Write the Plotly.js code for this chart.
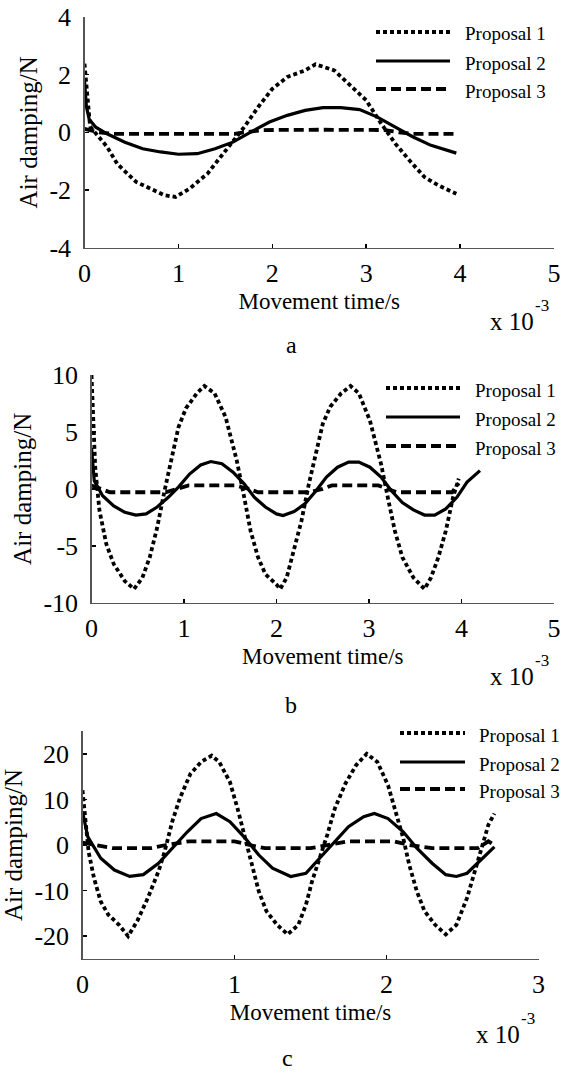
<!DOCTYPE html>
<html>
<head>
<meta charset="utf-8">
<script src="https://cdn.plot.ly/plotly-3.0.1.min.js"></script>
<style>html,body{margin:0;padding:0;background:#fff;}#chart{width:563px;height:1073px;}</style>
</head>
<body>
<div id="chart"></div>
<script>
// ---------- DATA (time in units of 1e-3 s, damping in N) ----------
const seriesNames = ["Proposal 1", "Proposal 2", "Proposal 3"];
const panelLabels = ["a", "b", "c"];
const xTitle = "Movement time/s";
const yTitle = "Air damping/N";
const multBase = "x 10";
const multExp = "-3";
const xTickValsA = [0, 1, 2, 3, 4, 5];
const yTickValsA = [-4, -2, 0, 2, 4];
const yTickTextA = ["-4", "-2", "0", "2", "4"];
const xTickValsB = [0, 1, 2, 3, 4, 5];
const yTickValsB = [-10, -5, 0, 5, 10];
const yTickTextB = ["-10", "-5", "0", "5", "10"];
const xTickValsC = [0, 1, 2, 3];
const yTickValsC = [-20, -10, 0, 10, 20];
const yTickTextC = ["-20", "-10", "0", "10", "20"];
const yMinorTicksC = [-25, 25];

// Panel a
const aP1_t = [0, 0.03, 0.06, 0.24, 0.35, 0.55, 0.7, 0.85, 0.97, 1.12, 1.31, 1.5, 1.7, 1.85, 2.0, 2.16, 2.35, 2.46, 2.66, 2.81, 3.0, 3.16, 3.31, 3.46, 3.62, 3.77, 3.92, 3.96];
const aP1_y = [2.38, 1.1, 0.2, -0.5, -1.1, -1.72, -1.95, -2.18, -2.24, -1.95, -1.43, -0.62, 0.18, 0.88, 1.51, 1.92, 2.15, 2.36, 2.15, 1.69, 1.11, 0.3, -0.39, -0.97, -1.55, -1.84, -2.07, -2.13];
const aP2_t = [0, 0.02, 0.05, 0.12, 0.24, 0.43, 0.62, 0.81, 1.0, 1.2, 1.39, 1.58, 1.77, 1.97, 2.16, 2.35, 2.54, 2.73, 2.93, 3.12, 3.31, 3.5, 3.69, 3.88, 3.96];
const aP2_y = [1.8, 0.9, 0.45, 0.18, -0.05, -0.34, -0.57, -0.68, -0.76, -0.74, -0.57, -0.34, 0.01, 0.36, 0.59, 0.76, 0.86, 0.86, 0.79, 0.53, 0.18, -0.16, -0.45, -0.62, -0.72];
const aP3_t = [0, 0.15, 0.3, 0.8, 1.6, 1.75, 1.9, 2.5, 3.2, 3.35, 3.5, 3.96];
const aP3_y = [0.12, 0.0, -0.05, -0.06, -0.05, 0.02, 0.08, 0.09, 0.08, 0.0, -0.05, -0.05];

// Panel b
const bP1_t = [0, 0.016, 0.04, 0.086, 0.16, 0.24, 0.36, 0.46, 0.55, 0.63, 0.71, 0.79, 0.87, 0.94, 1.02, 1.14, 1.22, 1.33, 1.45, 1.57, 1.65, 1.72, 1.8, 1.88, 2.0, 2.04, 2.11, 2.19, 2.27, 2.35, 2.43, 2.5, 2.58, 2.7, 2.8, 2.89, 3.01, 3.13, 3.21, 3.28, 3.36, 3.48, 3.6, 3.67, 3.75, 3.83, 3.91, 3.97];
const bP1_y = [10, 6.3, 1.9, -1.9, -4.85, -6.6, -8.1, -8.8, -7.8, -6.0, -3.4, -0.15, 2.8, 5.4, 7.06, 8.4, 9.03, 8.4, 6.3, 2.5, -0.7, -3.7, -6.0, -7.5, -8.4, -8.8, -7.8, -5.4, -2.8, 0.44, 3.4, 5.7, 7.2, 8.4, 9.03, 8.4, 6.0, 2.2, -1.03, -3.7, -6.0, -7.8, -8.8, -7.8, -6.0, -3.7, -0.7, 0.9];
const bP2_t = [0, 0.03, 0.12, 0.24, 0.36, 0.48, 0.59, 0.71, 0.83, 0.94, 1.06, 1.18, 1.29, 1.41, 1.53, 1.65, 1.76, 1.88, 2.0, 2.07, 2.19, 2.31, 2.43, 2.54, 2.66, 2.78, 2.89, 3.01, 3.13, 3.24, 3.36, 3.48, 3.6, 3.71, 3.83, 3.95, 4.06, 4.2];
const bP2_y = [3.6, 0.7, -0.6, -1.5, -2.06, -2.3, -2.2, -1.6, -0.74, 0.15, 1.3, 2.1, 2.4, 2.2, 1.47, 0.44, -0.74, -1.6, -2.2, -2.35, -2.0, -1.3, -0.15, 1.03, 1.9, 2.35, 2.35, 1.9, 1.03, -0.15, -1.2, -1.85, -2.3, -2.3, -1.76, -0.74, 0.6, 1.6];
const bP3_t = [0, 0.1, 0.2, 0.8, 0.95, 1.05, 1.55, 1.7, 1.8, 2.35, 2.5, 2.6, 3.1, 3.2, 3.3, 3.9, 3.97];
const bP3_y = [0.3, 0.0, -0.3, -0.3, 0.1, 0.3, 0.3, 0.0, -0.3, -0.3, 0.0, 0.3, 0.3, 0.0, -0.3, -0.3, 0.5];

// Panel c
const cP1_t = [0, 0.02, 0.04, 0.076, 0.12, 0.17, 0.24, 0.3, 0.36, 0.43, 0.5, 0.54, 0.59, 0.64, 0.71, 0.78, 0.85, 0.9, 0.97, 1.02, 1.07, 1.11, 1.16, 1.21, 1.28, 1.35, 1.42, 1.47, 1.51, 1.56, 1.61, 1.66, 1.73, 1.8, 1.87, 1.94, 2.01, 2.06, 2.11, 2.15, 2.2, 2.25, 2.32, 2.39, 2.46, 2.53, 2.58, 2.63, 2.67, 2.71];
const cP1_y = [12, 5.1, -1.5, -7.3, -12.4, -15.3, -17.5, -20, -16.7, -11.6, -5.8, -1.5, 5.1, 10.2, 15.6, 18.2, 19.6, 18.2, 13.8, 8.0, 1.5, -4.4, -10.2, -14.5, -17.5, -19.6, -17.5, -13.1, -8.0, -2.9, 2.2, 8.0, 13.5, 17.5, 20, 18.2, 13.1, 7.3, 1.5, -4.4, -10.2, -14.5, -17.5, -19.6, -17.5, -11.6, -5.8, 0, 4.4, 6.9];
const cP2_t = [0, 0.035, 0.12, 0.21, 0.31, 0.4, 0.5, 0.59, 0.69, 0.78, 0.88, 0.97, 1.07, 1.16, 1.25, 1.37, 1.47, 1.56, 1.66, 1.75, 1.85, 1.92, 2.01, 2.11, 2.2, 2.3, 2.39, 2.46, 2.53, 2.63, 2.71];
const cP2_y = [7.3, 1.8, -2.9, -5.5, -6.9, -6.5, -4.0, -0.7, 2.9, 5.8, 6.9, 5.1, 1.5, -2.2, -5.1, -6.9, -6.2, -2.9, 0.7, 4.0, 6.2, 6.9, 5.8, 2.9, -0.7, -4.0, -6.5, -6.9, -6.2, -2.9, -0.4];
const cP3_t = [0, 0.1, 0.2, 0.45, 0.55, 0.7, 1.0, 1.1, 1.2, 1.5, 1.62, 1.75, 2.05, 2.15, 2.3, 2.6, 2.67, 2.71];
const cP3_y = [0.5, 0, -0.7, -0.7, 0, 0.8, 0.8, 0, -0.7, -0.7, 0, 0.8, 0.8, 0, -0.7, -0.7, 0.8, 0];

// ---------- STYLE ----------
const W = 563, H = 1073;
const FONT = '"Liberation Serif", "Times New Roman", Times, serif';
const px = x => x / W;
const py = y => 1 - y / H;
const lineStyles = [
  {color: "#000", width: 3.8, dash: "4px,3px"},
  {color: "#000", width: 3.2, dash: "solid"},
  {color: "#000", width: 3.8, dash: "10px,5px"}
];

const panels = [
  {ax: "", t: [aP1_t, aP2_t, aP3_t], y: [aP1_y, aP2_y, aP3_y],
   xr: [0, 5], yr: [-4, 4], xt: xTickValsA, yt: yTickValsA, ytt: yTickTextA, minor: null,
   left: 84.5, right: 554, top: 17, bottom: 247.7,
   leg: {x0: 376, x1: 450, tx: 463, ys: [32, 61, 89], fs: 19},
   mult: {x: 488, y: 322}, lab: {x: 291, y: 345}},
  {ax: "2", t: [bP1_t, bP2_t, bP3_t], y: [bP1_y, bP2_y, bP3_y],
   xr: [0, 5], yr: [-10, 10], xt: xTickValsB, yt: yTickValsB, ytt: yTickTextB, minor: null,
   left: 91.5, right: 554, top: 375, bottom: 602.7,
   leg: {x0: 386, x1: 460, tx: 473, ys: [388, 417, 446], fs: 19},
   mult: {x: 488, y: 676}, lab: {x: 291, y: 705}},
  {ax: "3", t: [cP1_t, cP2_t, cP3_t], y: [cP1_y, cP2_y, cP3_y],
   xr: [0, 3], yr: [-25, 25], xt: xTickValsC, yt: yTickValsC, ytt: yTickTextC, minor: yMinorTicksC,
   left: 82.5, right: 538.5, top: 731, bottom: 959,
   leg: {x0: 400, x1: 465, tx: 477, ys: [733, 762, 789], fs: 19},
   mult: {x: 474, y: 1034}, lab: {x: 287, y: 1058}}
];

const traces = [];
const layout = {
  width: W, height: H,
  margin: {l: 0, r: 0, t: 0, b: 0},
  paper_bgcolor: "#fff", plot_bgcolor: "#fff",
  showlegend: false,
  font: {family: FONT, color: "#000"},
  shapes: [], annotations: []
};

panels.forEach((p, pi) => {
  for (let s = 0; s < 3; s++) {
    traces.push({
      type: "scatter", mode: "lines", name: seriesNames[s],
      x: p.t[s], y: p.y[s],
      xaxis: "x" + p.ax, yaxis: "y" + p.ax,
      line: lineStyles[s], hoverinfo: "skip", cliponaxis: false
    });
  }
  const xa = {
    domain: [px(p.left), px(p.right)], range: p.xr, anchor: "y" + p.ax,
    tickmode: "array", tickvals: p.xt,
    ticks: "inside", ticklen: 4, tickwidth: 1.5, tickcolor: "#000",
    showline: true, linecolor: "#555", linewidth: 1.2, mirror: false,
    showgrid: false, zeroline: false, fixedrange: true,
    tickfont: {family: FONT, size: 26, color: "#000"},
    ticklabelstandoff: 2,
    title: {text: xTitle, font: {family: FONT, size: 23, color: "#000"}, standoff: 5}
  };
  const ya = {
    domain: [py(p.bottom), py(p.top)], range: p.yr, anchor: "x" + p.ax,
    tickmode: "array", tickvals: p.yt, ticktext: p.ytt,
    ticks: "inside", ticklen: 4, tickwidth: 1.5, tickcolor: "#000",
    showline: true, linecolor: "#555", linewidth: 1.2, mirror: false,
    showgrid: false, zeroline: false, fixedrange: true,
    tickfont: {family: FONT, size: 26, color: "#000"},
    ticklabelstandoff: 7,
    title: {text: yTitle, font: {family: FONT, size: 25, color: "#000"}, standoff: 4}
  };
  if (p.minor) {
    ya.minor = {tickmode: "array", tickvals: p.minor, ticks: "inside", ticklen: 4, tickwidth: 1.5, tickcolor: "#000", showgrid: false};
  }
  layout["xaxis" + p.ax] = xa;
  layout["yaxis" + p.ax] = ya;

  // legend keys
  for (let s = 0; s < 3; s++) {
    layout.shapes.push({
      type: "line", xref: "paper", yref: "paper",
      x0: px(p.leg.x0), x1: px(p.leg.x1), y0: py(p.leg.ys[s]), y1: py(p.leg.ys[s]),
      line: lineStyles[s]
    });
    layout.annotations.push({
      xref: "paper", yref: "paper", x: px(p.leg.tx), y: py(p.leg.ys[s] + 2),
      xanchor: "left", yanchor: "middle", showarrow: false,
      text: seriesNames[s], font: {family: FONT, size: p.leg.fs, color: "#000"}
    });
  }
  // multiplier "x 10^-3"
  layout.annotations.push({
    xref: "paper", yref: "paper", x: px(p.mult.x), y: py(p.mult.y),
    xanchor: "left", yanchor: "middle", showarrow: false,
    text: multBase, font: {family: FONT, size: 25, color: "#000"}
  });
  layout.annotations.push({
    xref: "paper", yref: "paper", x: px(p.mult.x + 45), y: py(p.mult.y - 16),
    xanchor: "left", yanchor: "middle", showarrow: false,
    text: multExp, font: {family: FONT, size: 17, color: "#000"}
  });
  // panel label
  layout.annotations.push({
    xref: "paper", yref: "paper", x: px(p.lab.x), y: py(p.lab.y),
    xanchor: "center", yanchor: "middle", showarrow: false,
    text: panelLabels[pi], font: {family: FONT, size: 24, color: "#000"}
  });
});

Plotly.newPlot("chart", traces, layout, {staticPlot: true, displayModeBar: false});
</script>
</body>
</html>
